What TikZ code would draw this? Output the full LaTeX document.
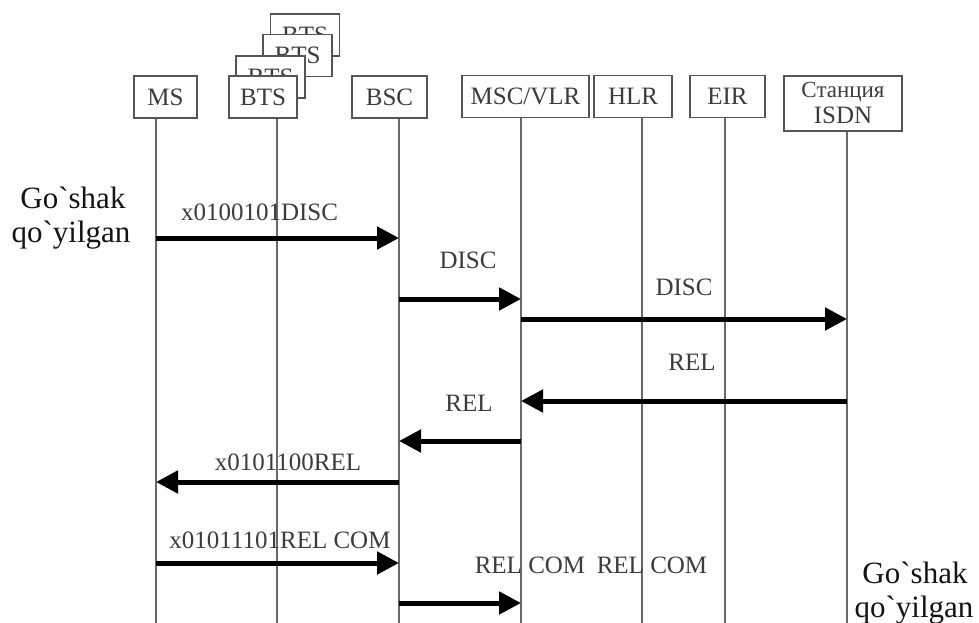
\documentclass[tikz,border=0pt]{standalone}
\usepackage{fontspec}
\setmainfont{Liberation Serif}[Ligatures=TeXOff]
\usetikzlibrary{arrows.meta}
\definecolor{linegray}{RGB}{105,105,105}
\definecolor{boxgray}{RGB}{85,85,85}
\definecolor{labgray}{RGB}{60,60,60}
\definecolor{sidetext}{RGB}{20,20,20}
\begin{document}
\begin{tikzpicture}[x=1pt,y=-1pt,
  box/.style={draw=boxgray, line width=1.8pt, fill=white, inner sep=0pt,
    minimum height=42pt, text=labgray, font=\fontsize{25}{28}\selectfont},
  life/.style={draw=linegray, line width=1.8pt},
  msg/.style={line width=5pt, -{Triangle[length=22pt,width=22pt]}},
  lab/.style={text=labgray, font=\fontsize{25}{28}\selectfont, inner sep=0pt, anchor=base},
  side/.style={text=sidetext, font=\fontsize{31}{34}\selectfont, inner sep=0pt, anchor=base}]
\useasboundingbox[fill=white] (0,0) rectangle (979,623);

% lifeline bottom ends
\coordinate (msE)   at (156,623);
\coordinate (btsE)  at (277,623);
\coordinate (bscE)  at (399,623);
\coordinate (mscE)  at (521,623);
\coordinate (hlrE)  at (642,623);
\coordinate (eirE)  at (725,623);
\coordinate (isdnE) at (847,623);

% message rows
\coordinate (r1) at (0,238);
\coordinate (r2) at (0,299);
\coordinate (r3) at (0,319);
\coordinate (r4) at (0,401);
\coordinate (r5) at (0,441);
\coordinate (r6) at (0,482);
\coordinate (r7) at (0,563);
\coordinate (r8) at (0,603);

% stacked BTS boxes
\node[box, minimum width=69pt] (bts4) at (305,35) {BTS};
\node[box, minimum width=69pt] (bts3) at (297.5,55.5) {BTS};
\node[box, minimum width=69pt] (bts2) at (270.5,77) {BTS};
\node[box, minimum width=68pt] (bts)  at (263,97) {BTS};

% entity boxes
\node[box, minimum width=63pt]  (ms)   at (165.5,97) {MS};
\node[box, minimum width=75pt]  (bsc)  at (389.5,97) {BSC};
\node[box, minimum width=127pt] (msc)  at (525.5,96.5) {MSC/VLR};
\node[box, minimum width=78pt]  (hlr)  at (633,96.5) {HLR};
\node[box, minimum width=75pt]  (eir)  at (727.5,96.5) {EIR};
\node[box, minimum width=118pt, minimum height=55pt, align=center] (isdn) at (843,103.5)
  {{\fontsize{23}{28}\selectfont Станция}\\[-2pt]ISDN};

% lifelines
\draw[life] (ms.south -| msE) -- (msE);
\draw[life] (bts.south -| btsE) -- (btsE);
\draw[life] (bsc.south -| bscE) -- (bscE);
\draw[life] (msc.south -| mscE) -- (mscE);
\draw[life] (hlr.south -| hlrE) -- (hlrE);
\draw[life] (eir.south -| eirE) -- (eirE);
\draw[life] (isdn.south -| isdnE) -- (isdnE);

% messages
\draw[msg] (msE |- r1) -- (bscE |- r1);
\draw[msg] (bscE |- r2) -- (mscE |- r2);
\draw[msg] (mscE |- r3) -- (isdnE |- r3);
\draw[msg] (isdnE |- r4) -- (mscE |- r4);
\draw[msg] (mscE |- r5) -- (bscE |- r5);
\draw[msg] (bscE |- r6) -- (msE |- r6);
\draw[msg] (msE |- r7) -- (bscE |- r7);
\draw[msg] (bscE |- r8) -- (mscE |- r8);

% labels
\node[lab] (l1) at (259.5,220) {x0100101DISC};
\node[lab] (l2) at (468,268) {DISC};
\node[lab] (l3) at (684,295) {DISC};
\node[lab] (l4) at (692,370) {REL};
\node[lab] (l5) at (469,411) {REL};
\node[lab] (l6) at (288,470) {x0101100REL};
\node[lab] (l7) at (280,548) {x01011101REL COM};
\node[lab] (l8) at (530,573) {REL COM};
\node[lab] (l9) at (652,573) {REL COM};

% side texts
\node[side] (s1) at (73,208) {Go`shak};
\node[side] (s2) at (71,242) {qo`yilgan};
\node[side] (s3) at (915,583) {Go`shak};
\node[side] (s4) at (914,617) {qo`yilgan};
\end{tikzpicture}
\end{document}
